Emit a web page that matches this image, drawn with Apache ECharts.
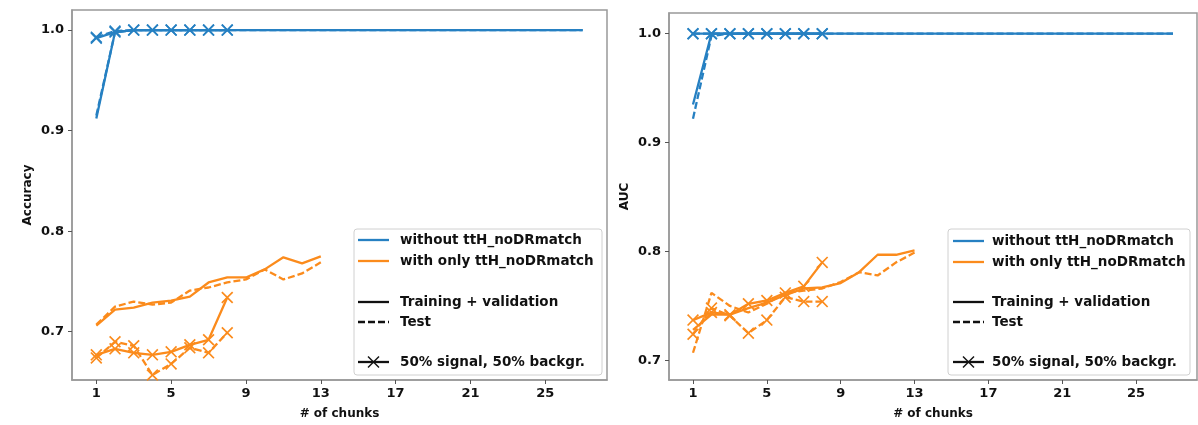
<!DOCTYPE html>
<html lang="en">
<head>
<meta charset="UTF-8">
<title>Accuracy / AUC vs # of chunks</title>
<script src="https://cdn.jsdelivr.net/npm/echarts@6/dist/echarts.min.js"></script>
<style>
    html, body { margin: 0; padding: 0; background: #fff; }
    #main { width: 1198px; height: 425px; }
</style>
</head>
<body>
<div id="main"></div>
<script>
    // x values (number of chunks)
    var chunksAll = [1, 2, 3, 4, 5, 6, 7, 8, 9, 10, 11, 12, 13, 14, 15, 16, 17, 18, 19, 20, 21, 22, 23, 24, 25, 26, 27];
    var chunks13 = [1, 2, 3, 4, 5, 6, 7, 8, 9, 10, 11, 12, 13];
    var chunks8 = [1, 2, 3, 4, 5, 6, 7, 8];

    // left panel: accuracy
    var accBlueTrain = [0.912, 0.998, 1.0, 1.0, 1.0, 1.0, 1.0, 1.0, 1.0, 1.0, 1.0, 1.0, 1.0, 1.0, 1.0, 1.0, 1.0, 1.0, 1.0, 1.0, 1.0, 1.0, 1.0, 1.0, 1.0, 1.0, 1.0];
    var accBlueTest = [0.915, 0.998, 1.0, 1.0, 1.0, 1.0, 1.0, 1.0, 1.0, 1.0, 1.0, 1.0, 1.0, 1.0, 1.0, 1.0, 1.0, 1.0, 1.0, 1.0, 1.0, 1.0, 1.0, 1.0, 1.0, 1.0, 1.0];
    var accBlueTrainBal = [0.992, 0.998, 1.0, 1.0, 1.0, 1.0, 1.0, 1.0];
    var accBlueTestBal = [0.993, 0.999, 1.0, 1.0, 1.0, 1.0, 1.0, 1.0];
    var accOrangeTrain = [0.706, 0.722, 0.724, 0.729, 0.731, 0.735, 0.749, 0.754, 0.754, 0.762, 0.774, 0.768, 0.775];
    var accOrangeTest = [0.707, 0.725, 0.730, 0.727, 0.729, 0.741, 0.744, 0.749, 0.752, 0.762, 0.752, 0.758, 0.769];
    var accOrangeTrainBal = [0.677, 0.683, 0.679, 0.677, 0.680, 0.687, 0.692, 0.734];
    var accOrangeTestBal = [0.674, 0.690, 0.686, 0.657, 0.668, 0.684, 0.679, 0.699];

    // right panel: AUC
    var aucBlueTrain = [0.935, 1.0, 1.0, 1.0, 1.0, 1.0, 1.0, 1.0, 1.0, 1.0, 1.0, 1.0, 1.0, 1.0, 1.0, 1.0, 1.0, 1.0, 1.0, 1.0, 1.0, 1.0, 1.0, 1.0, 1.0, 1.0, 1.0];
    var aucBlueTest = [0.922, 0.998, 1.0, 1.0, 1.0, 1.0, 1.0, 1.0, 1.0, 1.0, 1.0, 1.0, 1.0, 1.0, 1.0, 1.0, 1.0, 1.0, 1.0, 1.0, 1.0, 1.0, 1.0, 1.0, 1.0, 1.0, 1.0];
    var aucBlueTrainBal = [1.0, 1.0, 1.0, 1.0, 1.0, 1.0, 1.0, 1.0];
    var aucBlueTestBal = [1.0, 1.0, 1.0, 1.0, 1.0, 1.0, 1.0, 1.0];
    var aucOrangeTrain = [0.728, 0.742, 0.742, 0.748, 0.753, 0.760, 0.766, 0.767, 0.771, 0.781, 0.797, 0.797, 0.801];
    var aucOrangeTest = [0.707, 0.762, 0.750, 0.744, 0.752, 0.762, 0.764, 0.766, 0.772, 0.781, 0.778, 0.790, 0.799];
    var aucOrangeTrainBal = [0.737, 0.744, 0.742, 0.752, 0.755, 0.762, 0.768, 0.790];
    var aucOrangeTestBal = [0.724, 0.748, 0.741, 0.725, 0.737, 0.758, 0.754, 0.754];

    // axes
    var xTicks = [1, 5, 9, 13, 17, 21, 25];
    var yTicks = [0.7, 0.8, 0.9, 1.0];
    var yNames = ['Accuracy', 'AUC'];
    var xName = '# of chunks';
    var legendLabels = ['without ttH_noDRmatch', 'with only ttH_noDRmatch', 'Training + validation', 'Test', '50% signal, 50% backgr.'];

    var BLUE = '#2680c2';
    var ORANGE = '#fb8b1c';
    var FONT = '"DejaVu Sans", sans-serif';
    var X_MARK = 'path://M0,1L1,0L5,4L9,0L10,1L6,5L10,9L9,10L5,6L1,10L0,9L4,5Z';

    var myChart = echarts.init(document.getElementById('main'));

    function makeLine(gi, xs, ys, color, dashed, marked) {
        return {
            type: 'line',
            xAxisIndex: gi,
            yAxisIndex: gi,
            data: xs.map(function (x, i) { return [x, ys[i]]; }),
            symbol: marked ? X_MARK : 'none',
            symbolSize: 12,
            showSymbol: marked,
            itemStyle: { color: color },
            lineStyle: { color: color, width: 2.3, type: dashed ? [7, 3] : 'solid' },
            animation: false,
            silent: true
        };
    }

    function makeX(gi) {
        return {
            gridIndex: gi,
            type: 'value',
            min: -0.3,
            max: 28.3,
            name: xName,
            nameLocation: 'middle',
            nameGap: 28,
            nameTextStyle: { fontFamily: FONT, fontWeight: 'bold', fontSize: 12, color: '#111' },
            axisLine: { show: true, onZero: false, lineStyle: { color: '#999', width: 1.5 } },
            axisTick: { show: true, customValues: xTicks, length: 4, lineStyle: { color: '#555' } },
            axisLabel: { customValues: xTicks, fontFamily: FONT, fontWeight: 'bold', fontSize: 13, color: '#111', margin: 7 },
            splitLine: { show: false }
        };
    }

    function makeY(gi, min, max) {
        return {
            gridIndex: gi,
            type: 'value',
            min: min,
            max: max,
            name: yNames[gi],
            nameLocation: 'middle',
            nameRotate: 90,
            nameGap: 38,
            nameTextStyle: { fontFamily: FONT, fontWeight: 'bold', fontSize: 12, color: '#111' },
            axisLine: { show: true, onZero: false, lineStyle: { color: '#999', width: 1.5 } },
            axisTick: { show: true, customValues: yTicks, length: 4, lineStyle: { color: '#555' } },
            axisLabel: {
                customValues: yTicks, fontFamily: FONT, fontWeight: 'bold', fontSize: 13, color: '#111', margin: 8,
                formatter: function (v) { return v.toFixed(1); }
            },
            splitLine: { show: false }
        };
    }

    // legend drawn by hand (grouped with blank rows, like matplotlib)
    function makeLegend(bx, by, bw, bh, lx, tx, rowY) {
        var kids = [{
            type: 'rect',
            shape: { x: bx, y: by, width: bw, height: bh, r: 3 },
            style: { fill: 'rgba(255,255,255,0.85)', stroke: '#d0d0d0', lineWidth: 1 }
        }];
        var lineColors = [BLUE, ORANGE, '#111', '#111', '#111'];
        for (var i = 0; i < 5; i++) {
            kids.push({
                type: 'line',
                shape: { x1: lx, y1: rowY[i], x2: lx + 31, y2: rowY[i] },
                style: { stroke: lineColors[i], lineWidth: 2.3, lineDash: i === 3 ? [7, 3] : null }
            });
            kids.push({
                type: 'text',
                style: { text: legendLabels[i], x: tx, y: rowY[i], font: 'bold 13.5px ' + FONT, fill: '#111', verticalAlign: 'middle' }
            });
        }
        var cx = lx + 15.5, cy = rowY[4];
        kids.push({ type: 'line', shape: { x1: cx - 5.5, y1: cy - 5.5, x2: cx + 5.5, y2: cy + 5.5 }, style: { stroke: '#111', lineWidth: 1.4 } });
        kids.push({ type: 'line', shape: { x1: cx - 5.5, y1: cy + 5.5, x2: cx + 5.5, y2: cy - 5.5 }, style: { stroke: '#111', lineWidth: 1.4 } });
        return { type: 'group', children: kids, z: 100 };
    }

    var option = {
        backgroundColor: '#fff',
        animation: false,
        grid: [
            { left: 72, top: 10, width: 535, height: 370, show: true, borderColor: '#999', borderWidth: 1.5 },
            { left: 669, top: 13, width: 528, height: 367, show: true, borderColor: '#999', borderWidth: 1.5 }
        ],
        xAxis: [makeX(0), makeX(1)],
        yAxis: [makeY(0, 0.652, 1.02), makeY(1, 0.682, 1.019)],
        series: [
            makeLine(0, chunksAll, accBlueTrain, BLUE, false, false),
            makeLine(0, chunksAll, accBlueTest, BLUE, true, false),
            makeLine(0, chunks8, accBlueTrainBal, BLUE, false, true),
            makeLine(0, chunks8, accBlueTestBal, BLUE, true, true),
            makeLine(0, chunks13, accOrangeTrain, ORANGE, false, false),
            makeLine(0, chunks13, accOrangeTest, ORANGE, true, false),
            makeLine(0, chunks8, accOrangeTrainBal, ORANGE, false, true),
            makeLine(0, chunks8, accOrangeTestBal, ORANGE, true, true),

            makeLine(1, chunksAll, aucBlueTrain, BLUE, false, false),
            makeLine(1, chunksAll, aucBlueTest, BLUE, true, false),
            makeLine(1, chunks8, aucBlueTrainBal, BLUE, false, true),
            makeLine(1, chunks8, aucBlueTestBal, BLUE, true, true),
            makeLine(1, chunks13, aucOrangeTrain, ORANGE, false, false),
            makeLine(1, chunks13, aucOrangeTest, ORANGE, true, false),
            makeLine(1, chunks8, aucOrangeTrainBal, ORANGE, false, true),
            makeLine(1, chunks8, aucOrangeTestBal, ORANGE, true, true)
        ],
        graphic: [
            makeLegend(354, 229, 248, 146, 358, 400, [240, 261, 302, 322, 362]),
            makeLegend(948, 229, 242, 146, 953, 992, [241, 262, 302, 322, 362])
        ]
    };

    myChart.setOption(option);
</script>
</body>
</html>
